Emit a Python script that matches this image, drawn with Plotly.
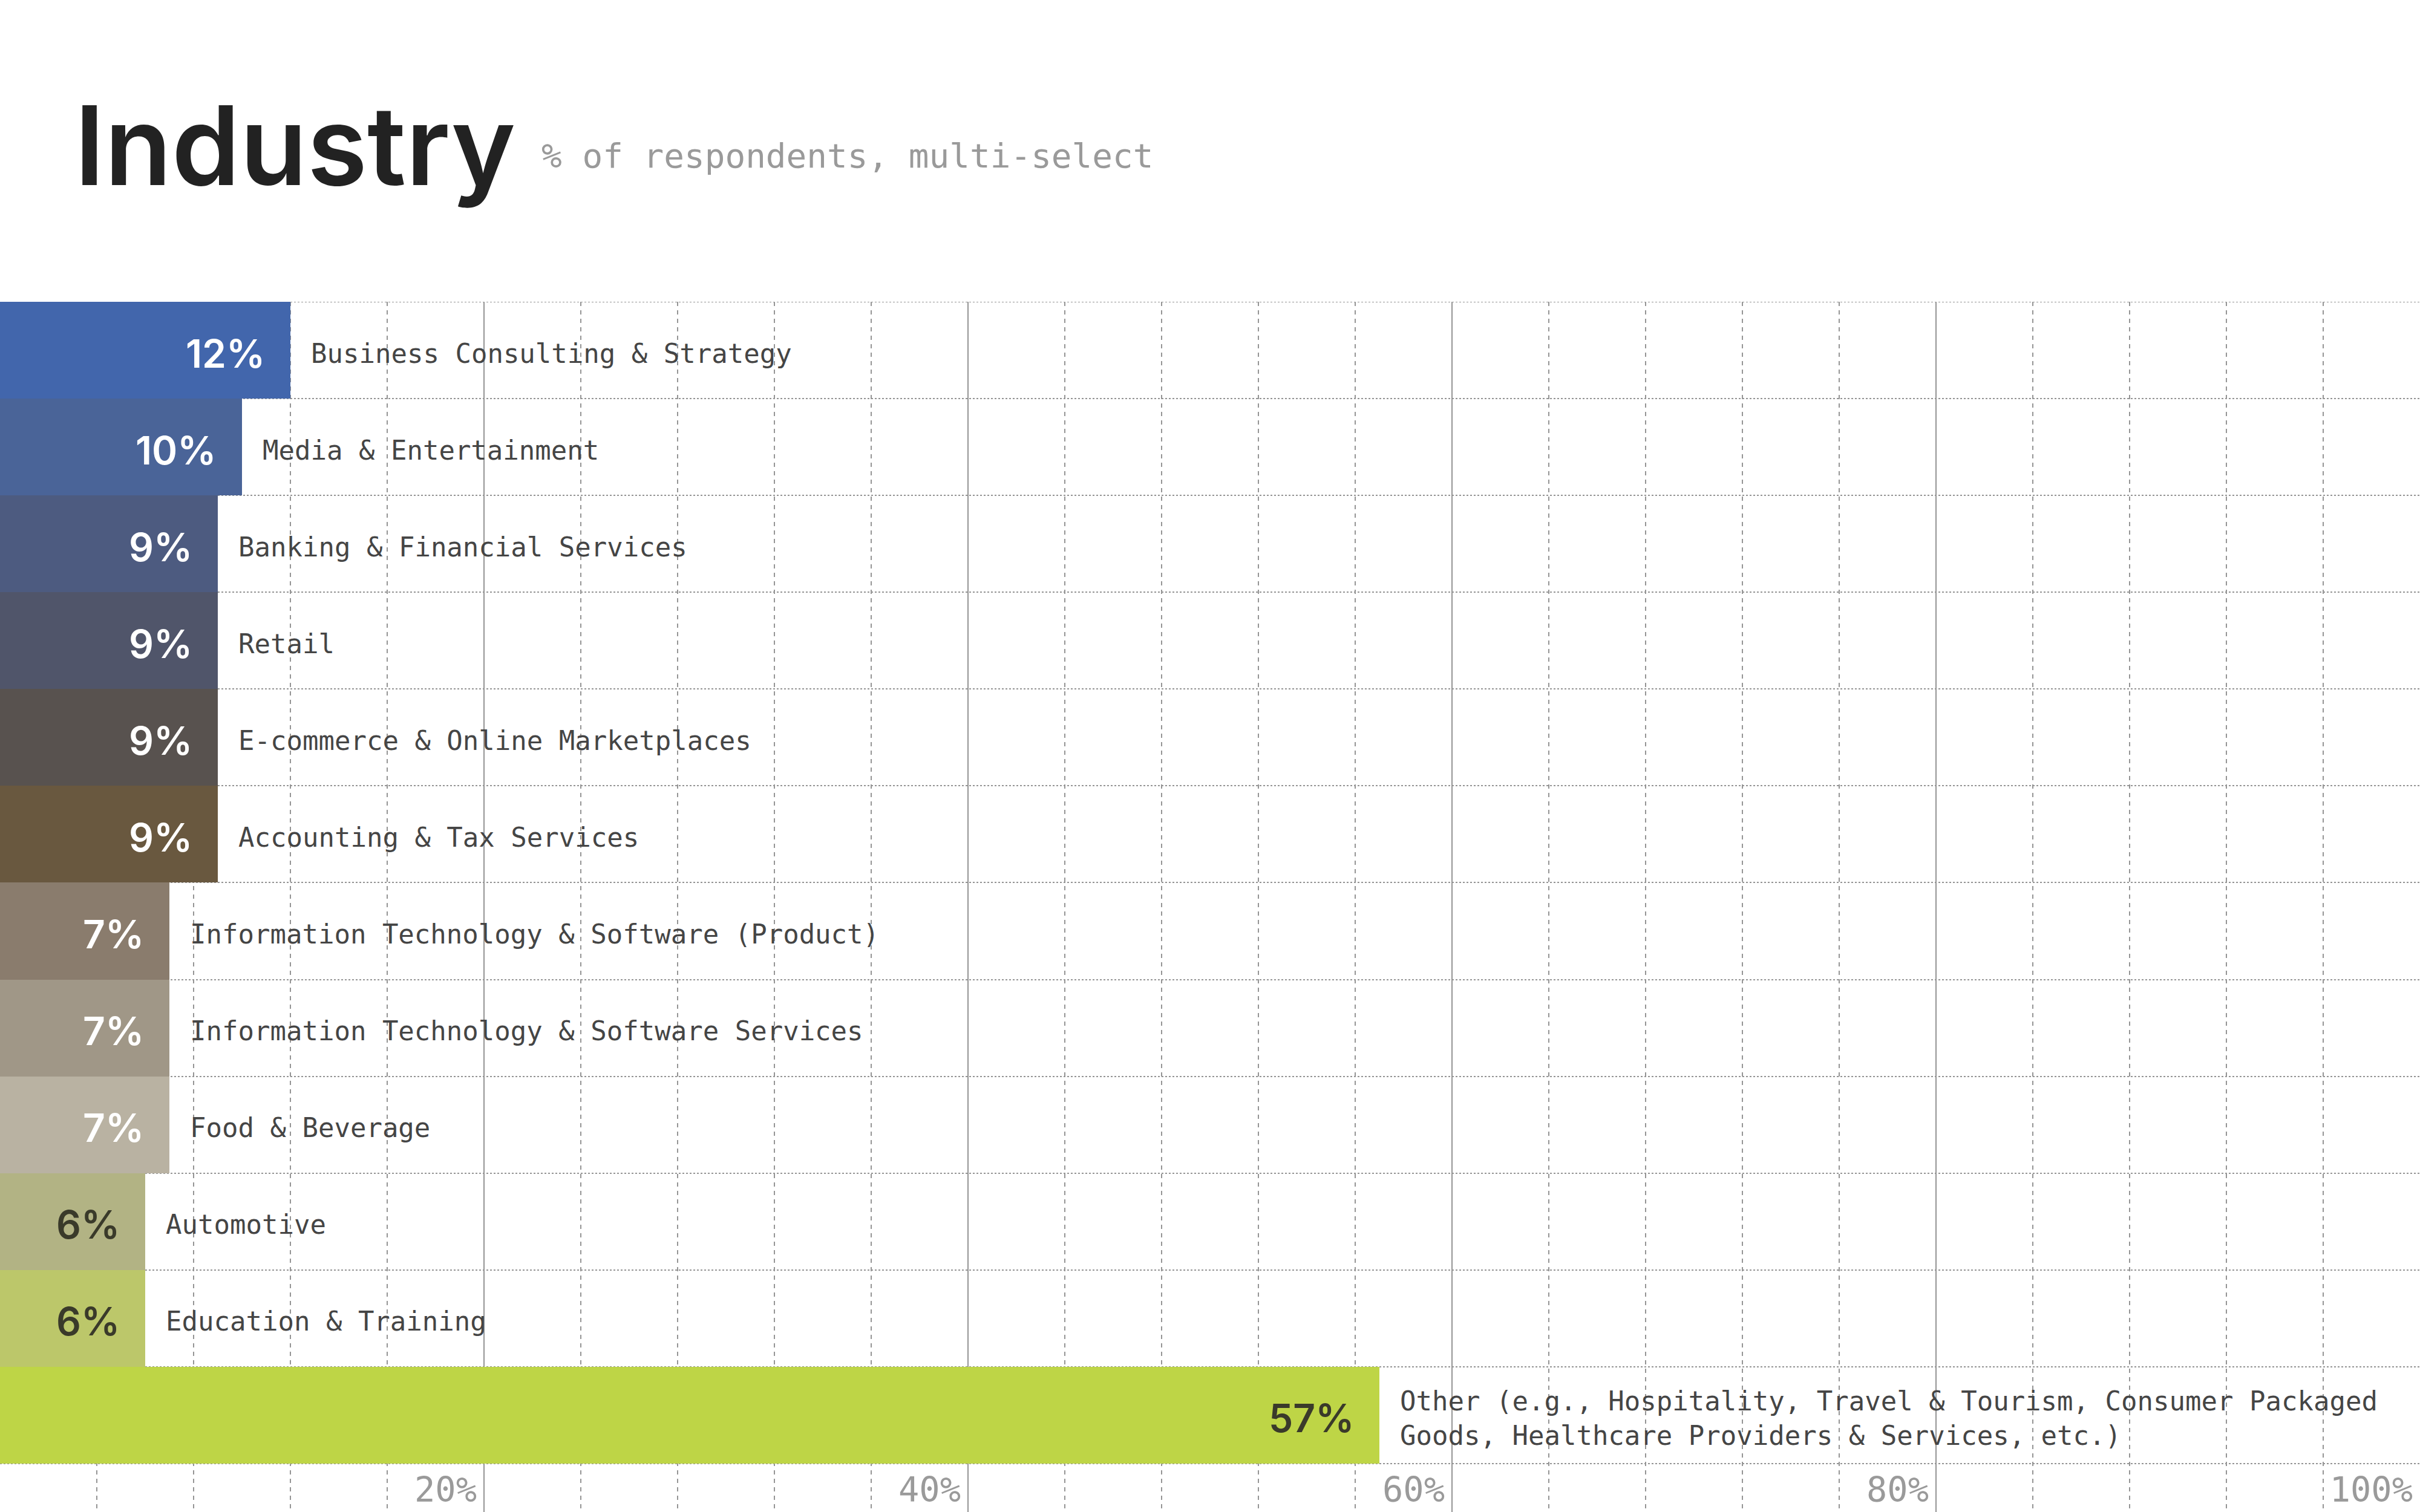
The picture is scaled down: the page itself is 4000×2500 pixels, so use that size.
import plotly.graph_objects as go

# ---------------- data ----------------
categories = [
    "Business Consulting & Strategy",
    "Media & Entertainment",
    "Banking & Financial Services",
    "Retail",
    "E-commerce & Online Marketplaces",
    "Accounting & Tax Services",
    "Information Technology & Software (Product)",
    "Information Technology & Software Services",
    "Food & Beverage",
    "Automotive",
    "Education & Training",
    "Other (e.g., Hospitality, Travel & Tourism, Consumer Packaged<br>Goods, Healthcare Providers & Services, etc.)",
]
values = [12, 10, 9, 9, 9, 9, 7, 7, 7, 6, 6, 57]
bar_colors = [
    "#4266AC", "#4A6498", "#4D5B80", "#50556A", "#58524F", "#69583F",
    "#8A7C6D", "#A09787", "#B9B2A2", "#B2B384", "#BCC76A", "#BED546",
]
pct_text_colors = ["#FFFFFF"] * 9 + ["#3A3A2A"] * 3
x_tick_vals = [20, 40, 60, 80, 100]
x_tick_text = ["20%", "40%", "60%", "80%", "100%"]

# ---------------- layout constants ----------------
W, H = 4000, 2500
TOP = 499
PLOT_H = H - TOP
MONO = "DejaVu Sans Mono, Liberation Mono, monospace"
SANS = "Inter, Roboto, sans-serif"
GRID = "#959595"


def py(pixel_y):
    return (H - pixel_y) / PLOT_H


ypos = list(range(len(categories)))
row_edges = [k - 0.5 for k in range(len(categories) + 1)]

fig = go.Figure()
fig.add_trace(go.Bar(
    x=values,
    y=ypos,
    orientation="h",
    width=1,
    marker=dict(color=bar_colors, line=dict(width=0)),
    hoverinfo="skip",
    showlegend=False,
))

annotations = []
for i, (cat, v, tc) in enumerate(zip(categories, values, pct_text_colors)):
    annotations.append(dict(
        x=v, y=i, xref="x", yref="y", text=f"{v}%", showarrow=False,
        xanchor="right", yanchor="middle", xshift=-40, yshift=-5,
        font=dict(family=SANS, size=64, color=tc, weight=600),
    ))
    annotations.append(dict(
        x=v, y=i, xref="x", yref="y", text=cat, showarrow=False,
        xanchor="left", yanchor="middle", xshift=32, yshift=-5, align="left",
        font=dict(family=MONO, size=44, color="#454545"),
    ))

# title + subtitle
annotations.append(dict(
    x=121 / W, y=py(240), xref="paper", yref="paper", text="Industry",
    showarrow=False, xanchor="left", yanchor="middle",
    font=dict(family=SANS, size=181, color="#222222", weight=600),
))
annotations.append(dict(
    x=893 / W, y=py(258), xref="paper", yref="paper",
    text="% of respondents, multi-select",
    showarrow=False, xanchor="left", yanchor="middle",
    font=dict(family=MONO, size=56, color="#9A9A9A"),
))

# top row boundary (grid at the plot edge is not drawn by plotly)
shapes = [dict(
    type="line", xref="paper", yref="y", x0=0, x1=1,
    y0=row_edges[0], y1=row_edges[0], layer="below",
    line=dict(color=GRID, width=2, dash="3px,3px"),
)]

fig.update_layout(
    width=W, height=H,
    margin=dict(l=0, r=0, t=TOP, b=0, pad=0),
    paper_bgcolor="white", plot_bgcolor="white",
    bargap=0,
    annotations=annotations,
    shapes=shapes,
    xaxis=dict(
        range=[0, 100], fixedrange=True,
        tickmode="array", tickvals=x_tick_vals, ticktext=x_tick_text,
        ticklabelposition="inside left", ticklabelshift=-12,
        tickfont=dict(family=MONO, size=57, color="#9A9A9A"),
        ticks="", showline=False, zeroline=False,
        showgrid=True, gridcolor=GRID, gridwidth=2, griddash="solid",
        minor=dict(tickmode="linear", tick0=0, dtick=4, showgrid=True,
                   gridcolor=GRID, gridwidth=2, griddash="7px,7px", ticks=""),
    ),
    yaxis=dict(
        range=[12.0, -0.5], fixedrange=True,
        tickmode="array", tickvals=row_edges,
        showticklabels=False, ticks="", showline=False, zeroline=False,
        showgrid=True, gridcolor=GRID, gridwidth=2, griddash="3px,3px",
    ),
)

fig.write_html("out.html")
